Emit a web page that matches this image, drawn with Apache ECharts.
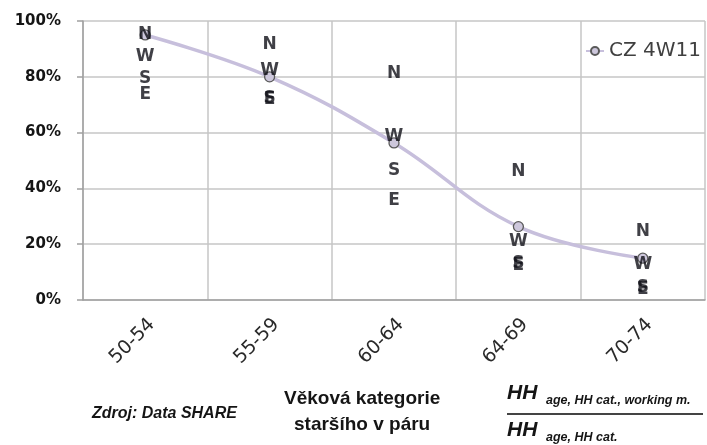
<!DOCTYPE html>
<html>
<head>
<meta charset="utf-8">
<title>CZ 4W11</title>
<script src="https://cdn.jsdelivr.net/npm/echarts@6/dist/echarts.min.js"></script>
<style>
    html, body { margin: 0; padding: 0; background: #fff; }
    #chart { width: 707px; height: 445px; }
</style>
</head>
<body>
<div id="chart"></div>
<script>
// age category of the older partner
var categories = ['50-54', '55-59', '60-64', '64-69', '70-74'];
// share of households with a working member
var cz = [0.95, 0.80, 0.563, 0.263, 0.15];
// letter markers N / W / S / E
var north = [0.951, 0.914, 0.812, 0.46, 0.247];
var west = [0.872, 0.824, 0.585, 0.211, 0.128];
var south = [0.795, 0.723, 0.463, 0.131, 0.045];
var east = [0.738, 0.72, 0.358, 0.125, 0.038];
var yTicks = [0, 0.2, 0.4, 0.6, 0.8, 1];

var textColor = '#151515';

function letterSeries(name, values) {
    return {
        name: name,
        type: 'scatter',
        z: 5,
        symbolSize: 2,
        itemStyle: { color: 'rgba(0,0,0,0)' },
        label: {
            show: true,
            position: 'inside',
            formatter: name,
            fontFamily: 'DejaVu Sans',
            fontWeight: 'bold',
            fontSize: 17,
            color: '#101018',
            textBorderWidth: 0
        },
        data: values
    };
}

var myChart = echarts.init(document.getElementById('chart'));
var option = {
    animation: false,
    grid: { left: 83, right: 2, top: 21, bottom: 145 },
    legend: {
        data: ['CZ 4W11'],
        left: 580,
        top: 36,
        itemWidth: 18,
        itemHeight: 10,
        itemGap: 4,
        textStyle: { fontFamily: 'DejaVu Sans', fontSize: 20, color: '#404040' }
    },
    xAxis: {
        type: 'category',
        data: categories,
        boundaryGap: true,
        axisLine: { lineStyle: { color: '#a0a0a0', width: 1.5 } },
        axisTick: { show: false },
        splitLine: { show: true, lineStyle: { color: '#c6c6c6', width: 1.5 } },
        axisLabel: {
            rotate: 45,
            margin: 15,
            verticalAlign: 'top',
            fontFamily: 'DejaVu Sans',
            fontSize: 19,
            color: '#2a2a2a'
        }
    },
    yAxis: {
        type: 'value',
        min: yTicks[0],
        max: yTicks[yTicks.length - 1],
        interval: 0.2,
        axisLine: { show: true, lineStyle: { color: '#a0a0a0', width: 1.5 } },
        axisTick: { show: true, length: 6, lineStyle: { color: '#a0a0a0', width: 1.5 } },
        splitLine: { lineStyle: { color: '#c6c6c6', width: 1.5 } },
        axisLabel: {
            margin: 22,
            fontFamily: 'DejaVu Sans',
            fontWeight: 'bold',
            fontSize: 15,
            color: textColor,
            formatter: function (v) { return Math.round(v * 100) + '%'; }
        }
    },
    series: [
        {
            name: 'CZ 4W11',
            type: 'line',
            z: 3,
            smooth: 0.4,
            symbol: 'circle',
            symbolSize: 10,
            lineStyle: { color: '#c7bfdc', width: 3.5 },
            itemStyle: { color: '#cdc7dc', borderColor: '#5a5a5a', borderWidth: 1.3 },
            data: cz
        },
        letterSeries('N', north),
        letterSeries('W', west),
        letterSeries('S', south),
        letterSeries('E', east)
    ],
    graphic: [
        {
            type: 'text', left: 92, top: 406,
            style: { text: 'Zdroj: Data SHARE', font: 'italic bold 16px "Liberation Sans"', fill: textColor }
        },
        {
            type: 'text', left: 284, top: 389,
            style: { text: 'Věková kategorie', font: 'bold 19px "Liberation Sans"', fill: textColor }
        },
        {
            type: 'text', left: 294, top: 415,
            style: { text: 'staršího v páru', font: 'bold 19px "Liberation Sans"', fill: textColor }
        },
        {
            type: 'text', left: 507, top: 383,
            style: { text: 'HH', font: 'italic bold 21px "Liberation Sans"', fill: textColor }
        },
        {
            type: 'text', left: 546, top: 394,
            style: { text: 'age, HH cat., working m.', font: 'italic bold 12.5px "Liberation Sans"', fill: textColor }
        },
        {
            type: 'line',
            shape: { x1: 507, y1: 414, x2: 703, y2: 414 },
            style: { stroke: '#444', lineWidth: 2 }
        },
        {
            type: 'text', left: 507, top: 420,
            style: { text: 'HH', font: 'italic bold 21px "Liberation Sans"', fill: textColor }
        },
        {
            type: 'text', left: 546, top: 431,
            style: { text: 'age, HH cat.', font: 'italic bold 12.5px "Liberation Sans"', fill: textColor }
        }
    ]
};
myChart.setOption(option);
</script>
</body>
</html>
